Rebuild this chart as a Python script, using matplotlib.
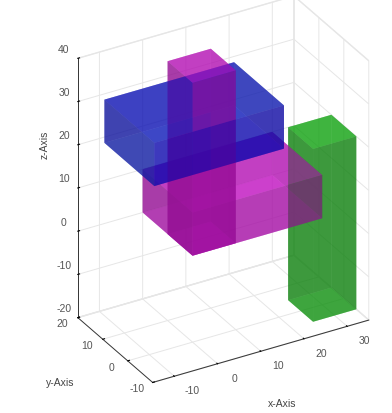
import matplotlib
matplotlib.use('Agg')
import matplotlib.pyplot as plt
from mpl_toolkits.mplot3d.art3d import Poly3DCollection

plt.rcParams['font.family'] = ['Liberation Sans', 'DejaVu Sans']

# x0, x1, y0, y1, z0, z1
boxes = [
    (0, 30, 0, 20, 0, 10),
    (0, 10, 0, 10, 0, 40),
    (-10, 20, -2, 18, 20, 30),
    (25, 35, -5, 5, -20, 20),
]
# colours for the x, y and z facing sides of each box
box_colors = [
    ('#900c90', '#980a98', '#c010c0'),
    ('#900c90', '#980a98', '#c010c0'),
    ('#101c98', '#0c00a8', '#0c18b8'),
    ('#0c800c', '#0c800c', '#10b010'),
]

xlims = (-15, 35)
ylims = (-10, 20)
zlims = (-20, 40)
xticks = [-10, 0, 10, 20, 30]
yticks = [-10, 0, 10, 20]
zticks = [-20, -10, 0, 10, 20, 30, 40]


def box_faces(b):
    x0, x1, y0, y1, z0, z1 = b
    return [
        [(x0, y0, z0), (x0, y1, z0), (x0, y1, z1), (x0, y0, z1)],
        [(x1, y0, z0), (x1, y1, z0), (x1, y1, z1), (x1, y0, z1)],
        [(x0, y0, z0), (x1, y0, z0), (x1, y0, z1), (x0, y0, z1)],
        [(x0, y1, z0), (x1, y1, z0), (x1, y1, z1), (x0, y1, z1)],
        [(x0, y0, z0), (x1, y0, z0), (x1, y1, z0), (x0, y1, z0)],
        [(x0, y0, z1), (x1, y0, z1), (x1, y1, z1), (x0, y1, z1)],
    ]


fig = plt.figure(figsize=(3.92, 4.13), dpi=100)
ax = fig.add_axes([22 / 392, 12 / 413, 1, 1], projection='3d', proj_type='ortho')
ax.set_position([22 / 392, 12 / 413, 1, 1])
ax.view_init(elev=30, azim=-120)
ax.set_xlim(xlims)
ax.set_ylim(ylims)
ax.set_zlim(zlims)
ax.set_box_aspect((50, 30, 60), zoom=1.034)

faces = []
colors = []
for b, c in zip(boxes, box_colors):
    faces += box_faces(b)
    colors += [c[0], c[0], c[1], c[1], c[2], c[2]]
ax.add_collection3d(Poly3DCollection(faces, facecolors=colors, edgecolors='none', alpha=0.55, linewidths=0))

ax.set_xticks(xticks)
ax.set_yticks(yticks)
ax.set_zticks(zticks)
ax.set_xticklabels([])
ax.set_yticklabels([])
ax.set_zticklabels([])
for axis in (ax.xaxis, ax.yaxis, ax.zaxis):
    axis.set_pane_color((1, 1, 1, 1))
    axis.pane.set_edgecolor('#e8e8e8')
    axis._axinfo['grid'].update(color='#e6e6e6', linewidth=0.7)
    axis._axinfo['tick'].update(inward_factor=0.0, outward_factor=0.1)
    axis.line.set_color('#333333')
    axis.line.set_linewidth(0.7)
    axis.set_tick_params(label1On=False)
    for tick in axis.get_major_ticks():
        tick.label1.set_visible(False)

# mplot3d resets tick label transforms, so the labels are placed as text
label_style = dict(fontsize=7.5, color='#555555', ha='center', va='center')
for v in xticks:
    ax.text(v, ylims[0] - 7, zlims[0], str(v), **label_style)
for v in yticks:
    ax.text(xlims[0] - 3.7, v, zlims[0] - 0.5, str(v), **label_style)
for v in zticks:
    ax.text(xlims[0] - 3.2, ylims[1], v + 2.9, str(v), **label_style)

fig.text(282 / 392, 1 - 404 / 413, 'x-Axis', fontsize=7.5, color='#444444', ha='center', va='center')
fig.text(60 / 392, 1 - 383 / 413, 'y-Axis', fontsize=7.5, color='#444444', ha='center', va='center')
fig.text(45 / 392, 1 - 145 / 413, 'z-Axis', fontsize=7.5, color='#444444', ha='center', va='center', rotation=90)

fig.savefig('out.png', dpi=100)
